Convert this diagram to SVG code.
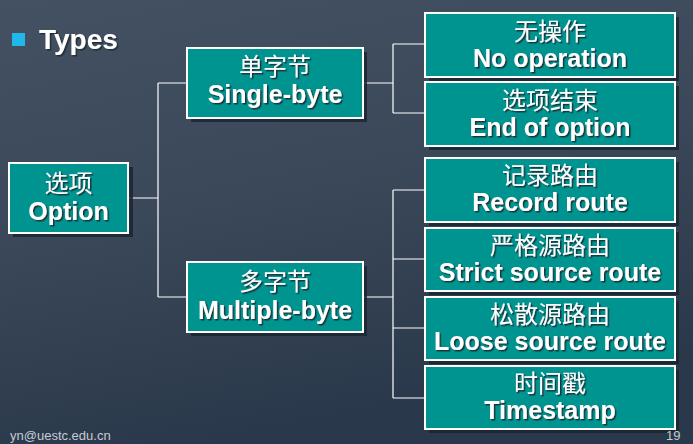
<svg xmlns="http://www.w3.org/2000/svg" width="693" height="444" viewBox="0 0 693 444">
<defs>
<linearGradient id="bg" x1="0" y1="0" x2="0.3" y2="1">
<stop offset="0" stop-color="#435162"/>
<stop offset="0.5" stop-color="#3a4859"/>
<stop offset="1" stop-color="#2a384b"/>
</linearGradient>
<filter id="ts" x="-10%" y="-20%" width="130%" height="150%">
<feDropShadow dx="1.5" dy="1.5" stdDeviation="0.3" flood-color="#1a2530" flood-opacity="0.9"/>
</filter>
</defs>
<style>
.box{fill:#009490;stroke:#ffffff;stroke-width:2}
.sh{fill:#1b2633;opacity:0.85}
.zh{font-family:"Noto Sans CJK SC","Noto Sans",sans-serif;font-size:24px;fill:#ffffff;text-anchor:middle;filter:url(#ts)}
.en{font-family:"Liberation Sans",Arial,sans-serif;font-weight:bold;font-size:25px;fill:#ffffff;text-anchor:middle;filter:url(#ts)}
.ln{fill:none;stroke:#ffffff;stroke-width:1.2}
.ft{font-family:"Liberation Sans",Arial,sans-serif;font-size:13px;fill:#c4ccd4}
</style>
<rect x="0" y="0" width="693" height="444" fill="url(#bg)"/>
<rect x="12" y="33" width="13" height="13" fill="#1fb8e8"/>
<text x="39" y="49" font-family="Liberation Sans,Arial,sans-serif" font-weight="bold" font-size="28" fill="#ffffff" filter="url(#ts)">Types</text>
<g id="connectors">
<path class="ln" d="M128,198 H158 M158,83 V297 M158,83 H187 M158,297 H187"/>
<path class="ln" d="M363,83 H393 M393,44 V113 M393,44 H425 M393,113 H425"/>
<path class="ln" d="M363,297 H393 M393,190 V398 M393,190 H425 M393,259 H425 M393,328 H425 M393,398 H425"/>
</g>
<g id="option">
<rect class="sh" x="13" y="167" width="120" height="70"/>
<rect class="box" x="9" y="163" width="119" height="70"/>
<text class="zh" x="68.5" y="192">选项</text>
<text class="en" x="68.5" y="220">Option</text>
</g>
<g id="single">
<rect class="sh" x="191" y="52" width="176" height="70"/>
<rect class="box" x="187" y="48" width="176" height="70"/>
<text class="zh" x="275" y="75">单字节</text>
<text class="en" x="275" y="103">Single-byte</text>
</g>
<g id="multiple">
<rect class="sh" x="191" y="266" width="176" height="70"/>
<rect class="box" x="187" y="262" width="176" height="70"/>
<text class="zh" x="275" y="290">多字节</text>
<text class="en" x="275" y="319">Multiple-byte</text>
</g>
<g id="noop">
<rect class="sh" x="429" y="17" width="250" height="64"/>
<rect class="box" x="425" y="13" width="250" height="64"/>
<text class="zh" x="550" y="40">无操作</text>
<text class="en" x="550" y="67">No operation</text>
</g>
<g id="eoo">
<rect class="sh" x="429" y="86" width="250" height="64"/>
<rect class="box" x="425" y="82" width="250" height="64"/>
<text class="zh" x="550" y="109">选项结束</text>
<text class="en" x="550" y="136">End of option</text>
</g>
<g id="record">
<rect class="sh" x="429" y="162" width="250" height="64"/>
<rect class="box" x="425" y="158" width="250" height="64"/>
<text class="zh" x="550" y="184">记录路由</text>
<text class="en" x="550" y="211">Record route</text>
</g>
<g id="strict">
<rect class="sh" x="429" y="232" width="250" height="63"/>
<rect class="box" x="425" y="228" width="250" height="63"/>
<text class="zh" x="550" y="254">严格源路由</text>
<text class="en" x="550" y="281">Strict source route</text>
</g>
<g id="loose">
<rect class="sh" x="429" y="301" width="250" height="63"/>
<rect class="box" x="425" y="297" width="250" height="63"/>
<text class="zh" x="550" y="323">松散源路由</text>
<text class="en" x="550" y="350">Loose source route</text>
</g>
<g id="timestamp">
<rect class="sh" x="429" y="370" width="250" height="63"/>
<rect class="box" x="425" y="366" width="250" height="63"/>
<text class="zh" x="550" y="392">时间戳</text>
<text class="en" x="550" y="419">Timestamp</text>
</g>
<text class="ft" x="10" y="440">yn@uestc.edu.cn</text>
<text class="ft" x="666" y="440">19</text>
</svg>
